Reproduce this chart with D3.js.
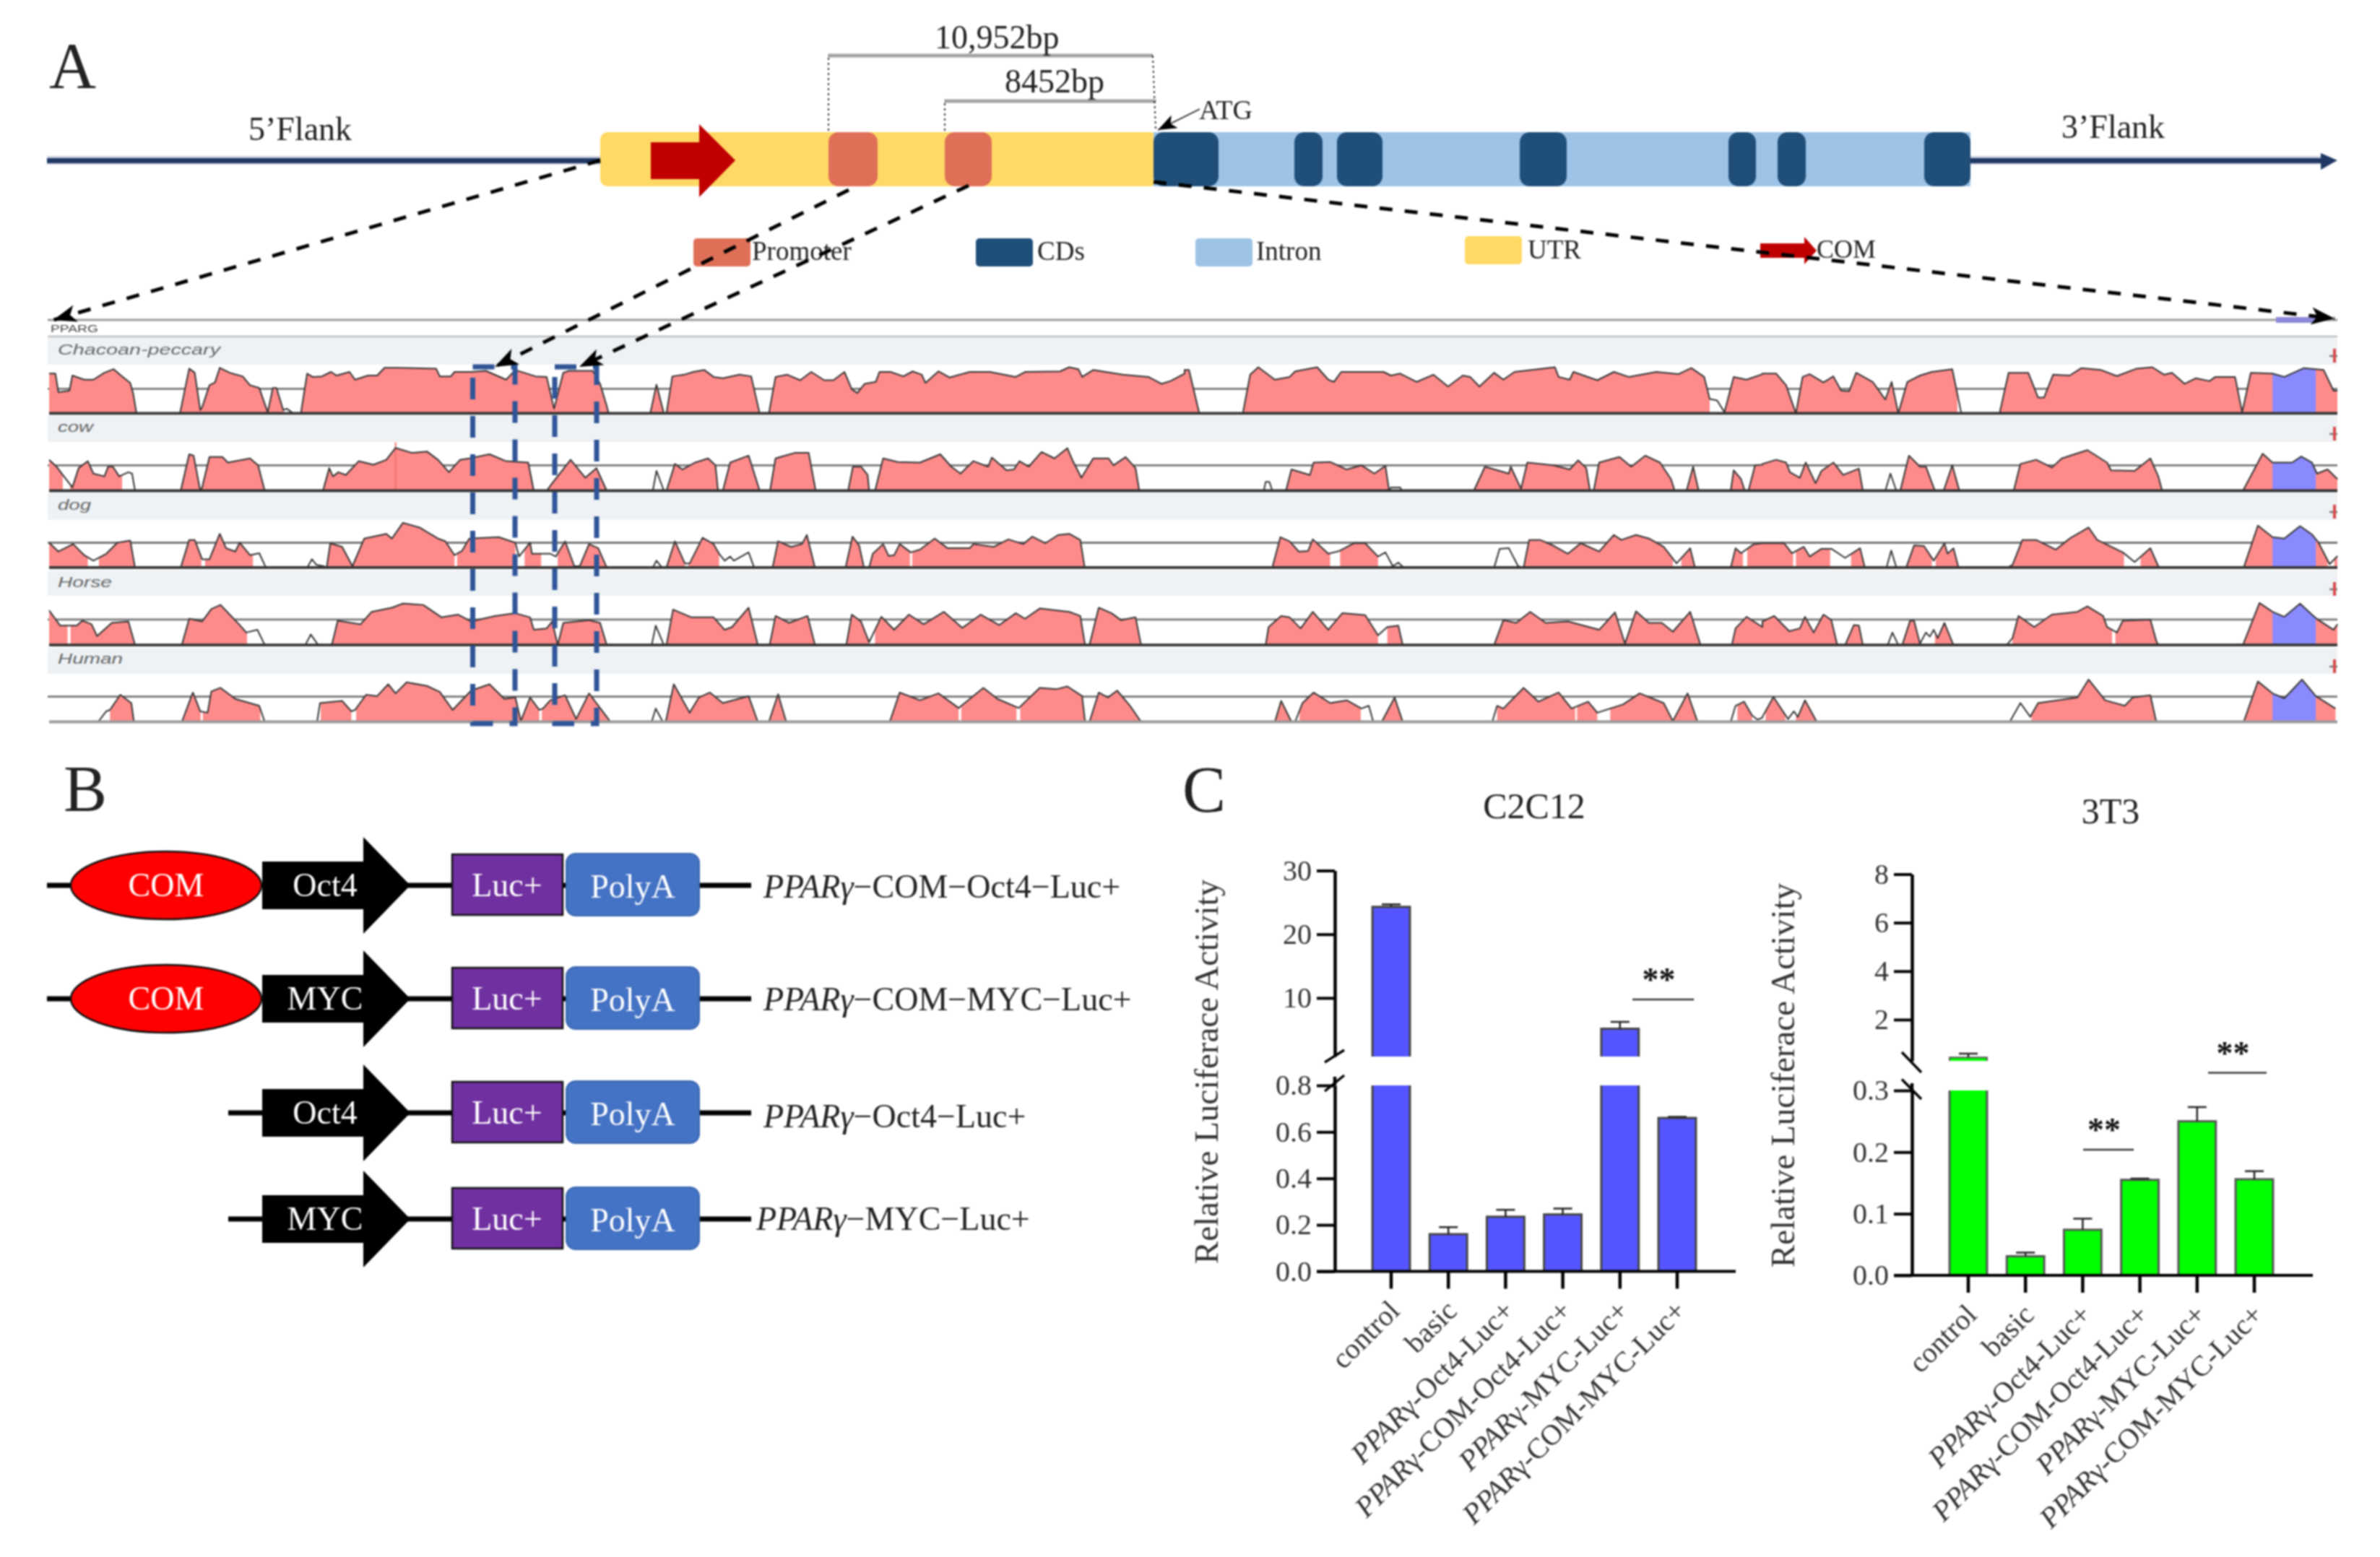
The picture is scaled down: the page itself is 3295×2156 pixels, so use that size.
<!DOCTYPE html>
<html><head><meta charset="utf-8">
<script src="https://cdnjs.cloudflare.com/ajax/libs/d3/7.8.5/d3.min.js"></script>
<style>html,body{margin:0;background:#fff}svg{display:block;filter:blur(0.8px)}text{font-family:"Liberation Serif",serif;fill:#222}</style>
</head><body>
<script>
// ---------- DATA ----------
const speciesNames=['Chacoan-peccary','cow','dog','Horse','Human'];
// conservation profiles: four reading windows, flat [position, score, ...] lists (score 0-178, threshold 89)
const peccary=[
[55,144,72,144,80,77,110,82,118,137,150,122,175,122,205,147,230,160,250,137,275,110,283,72,292,0,410,0,435,162,450,147,465,12,470,22,490,102,505,112,518,165,545,147,580,134,600,102,625,92,648,4,662,92,672,92,690,12,700,17,715,2,738,0,755,144,770,132,795,134,820,150,835,137,870,150,885,122,920,137,945,137,965,165,1000,165,1105,162,1115,134,1145,134,1155,150,1200,150,1240,154,1295,122,1320,157,1375,134,1405,132,1425,17,1450,147,1465,154,1530,154,1550,107,1568,27],
[5,0,118,0,135,104,155,0,162,0,178,134,210,140,235,150,265,157,290,132,315,127,360,140,392,134,415,0,440,0,458,132,490,140,525,120,555,150,590,120,615,120,645,150,665,87,680,74,700,107,730,114,740,150,770,150,805,134,830,152,855,140,865,110,900,152,930,130,985,150,1040,150,1110,132,1135,150,1230,152,1255,167,1280,160,1290,132,1320,157,1400,140,1470,132,1505,107,1530,117,1568,144],
[0,157,12,157,40,0,158,0,178,140,200,167,245,122,285,132,300,152,360,167,390,122,405,114,425,150,470,150,540,150,560,137,585,144,630,114,675,140,715,97,755,137,775,132,800,97,840,147,865,122,895,150,1005,167,1015,132,1045,122,1055,150,1120,120,1165,150,1205,132,1280,150,1340,142,1375,164,1410,132,1425,52,1445,47,1465,4,1490,132,1525,122,1568,142],
[0,144,35,144,60,102,85,0,102,132,120,142,155,112,180,134,200,82,220,80,238,147,280,114,312,50,328,114,345,0,368,114,400,137,430,150,482,160,505,0,602,0,625,147,675,147,700,57,715,57,738,140,780,137,810,164,860,157,900,135,950,162,990,167,1020,140,1040,147,1072,107,1100,127,1135,117,1150,132,1200,132,1218,4,1240,147,1295,144,1325,132,1375,164,1425,157,1450,82,1460,82]];
const cow=[
[55,112,75,87,95,52,118,12,135,82,160,107,175,62,205,52,215,87,228,87,245,52,270,67,280,62,288,0,412,0,435,132,447,127,465,0,470,12,490,122,525,122,540,102,600,117,622,92,640,0,798,0,815,82,825,52,840,67,860,57,895,107,935,94,970,112,995,155,1040,137,1080,142,1110,112,1140,67,1170,112,1195,117,1250,132,1295,107,1355,102,1370,0,1405,0,1420,27,1470,112,1510,47,1540,82,1568,0],
[125,0,135,72,155,0,162,0,185,97,205,77,240,102,275,117,295,92,302,0,315,0,335,102,385,127,415,0,443,0,458,117,510,137,548,137,567,0,655,0,668,87,690,87,708,57,712,0,728,0,750,117,790,104,850,102,905,132,935,87,960,62,995,107,1035,87,1045,120,1085,74,1105,77,1120,107,1145,87,1180,140,1215,117,1250,154,1265,107,1288,47,1320,117,1362,117,1375,92,1408,122,1435,82,1445,0],
[215,0,220,32,230,32,238,0,275,0,290,77,340,57,350,102,395,104,440,77,480,92,515,62,545,90,555,0,560,12,585,12,590,0,785,0,815,87,880,62,885,87,913,7,930,102,1000,92,1045,77,1068,110,1090,82,1100,0,1110,0,1125,102,1180,122,1212,87,1250,127,1290,102,1320,42,1330,0,1362,0,1380,87,1395,0,1482,0,1490,74,1510,42,1520,0,1530,0,1548,92,1568,94],
[0,97,35,112,60,102,70,67,95,47,110,102,135,27,150,72,180,102,205,57,245,80,255,0,312,0,325,62,340,0,350,0,372,127,400,87,415,87,438,0,460,0,482,92,500,0,638,0,655,97,695,112,735,84,760,117,825,147,875,102,885,74,945,72,985,117,1005,52,1015,0,1220,0,1270,134,1295,102,1345,102,1368,124,1395,102,1408,62,1435,77,1460,42]];
const dog=[
[55,90,80,58,120,85,150,45,175,25,210,50,240,90,275,98,288,0,412,0,435,100,450,100,470,30,490,30,518,122,535,70,560,58,572,90,600,45,625,52,643,0,755,0,768,30,780,10,800,5,808,0,818,88,850,75,878,5,910,105,970,122,985,105,1015,162,1060,145,1110,105,1130,95,1155,45,1175,60,1195,105,1275,110,1320,90,1330,40,1360,90,1365,50,1415,50,1430,40,1455,95,1480,5,1495,5,1520,85,1545,70,1568,0],
[125,0,135,25,150,0,162,0,185,95,212,15,225,15,260,108,290,85,305,50,320,25,335,40,345,25,385,55,400,0,450,0,465,95,500,75,530,85,543,118,565,0,648,0,667,112,685,80,698,0,712,0,722,50,750,85,765,42,780,45,795,85,825,55,850,65,890,105,925,70,985,70,995,85,1050,75,1090,102,1130,85,1155,112,1190,88,1225,118,1255,122,1285,100,1297,0],
[238,0,260,110,285,95,310,58,335,60,348,102,390,50,420,60,460,88,490,88,525,40,545,55,565,5,580,18,595,0,840,0,855,68,880,70,905,5,920,0,935,100,965,100,1000,80,1040,50,1075,88,1125,58,1165,118,1185,100,1225,118,1260,105,1300,75,1335,15,1372,70,1385,0,1482,0,1495,70,1510,52,1545,85,1568,88],
[0,88,55,88,75,52,105,75,120,40,150,68,175,68,210,35,248,70,260,0,315,0,327,62,340,0,365,0,385,80,410,78,435,25,462,88,470,50,485,70,498,0,622,0,635,10,660,100,695,100,745,65,780,105,828,145,850,100,915,55,945,20,985,70,1005,5,1010,0,1222,0,1258,152,1295,110,1325,105,1365,150,1395,120,1412,90,1440,12,1460,42]];
const horse=[
[55,125,85,70,130,70,145,88,170,75,185,32,225,80,270,85,288,0,415,0,435,95,470,85,495,130,520,145,570,75,590,45,620,55,640,0,750,0,765,38,785,0,822,0,838,88,900,75,930,120,985,135,1015,150,1070,145,1120,100,1165,110,1200,85,1265,105,1320,115,1360,100,1370,55,1405,60,1420,85,1435,0,1450,80,1520,90,1550,80,1568,0],
[122,0,133,70,155,0,162,0,180,128,230,100,290,100,320,55,340,65,385,135,410,0,442,0,458,105,495,80,545,105,565,0,650,0,665,110,690,85,712,10,745,102,780,55,820,110,860,75,915,120,965,62,1015,110,1065,72,1110,115,1135,95,1175,132,1255,120,1285,105,1298,0,1310,0,1335,135,1370,115,1395,90,1435,100,1450,0],
[220,0,228,65,262,105,285,100,315,60,348,120,390,55,428,115,490,108,525,35,550,65,580,70,592,0,840,0,865,90,900,80,938,120,980,80,1040,85,1125,55,1168,118,1195,5,1225,122,1260,80,1295,80,1325,48,1372,120,1400,0,1485,0,1495,60,1525,102,1568,65],
[0,85,30,105,68,50,95,60,108,102,130,45,155,110,175,90,190,0,210,0,232,72,245,70,255,0,318,0,330,45,345,0,355,0,375,88,385,88,400,5,415,45,425,30,435,55,445,25,462,80,485,0,620,0,635,25,650,105,690,65,735,110,800,120,825,140,865,105,875,65,900,45,915,88,985,92,1000,15,1005,0,1220,0,1262,152,1295,120,1325,102,1365,150,1395,110,1410,92,1450,55,1460,75]];
const human=[
[55,0,188,0,210,38,220,43,248,98,278,68,285,0,415,0,445,106,465,38,485,33,495,110,520,123,560,83,625,58,640,0,782,0,790,68,850,76,875,38,885,43,915,98,945,93,975,136,995,103,1025,143,1080,130,1115,108,1150,43,1200,113,1250,136,1290,83,1320,88,1335,3,1360,88,1385,43,1395,48,1415,78,1455,96,1485,10,1520,103,1568,18],
[10,0,122,0,133,48,152,0,160,0,182,136,225,33,250,88,280,106,315,68,385,93,410,0,440,0,465,100,487,0,768,0,795,106,850,78,900,103,955,50,1022,123,1060,83,1118,50,1175,123,1220,118,1250,128,1290,93,1298,0,1310,0,1335,106,1360,88,1385,113,1420,58,1450,0],
[245,0,262,76,290,0,300,0,320,68,350,106,395,68,440,78,480,48,500,58,512,0,535,0,570,88,592,0,835,0,848,58,865,48,920,123,960,73,1015,106,1050,48,1095,73,1120,33,1190,63,1235,103,1300,68,1325,3,1365,103,1392,0,1482,0,1495,58,1518,73,1540,23,1555,8,1568,15],
[0,18,28,90,65,10,80,38,90,18,108,78,138,0,628,0,655,68,680,18,700,68,800,88,828,153,870,78,920,58,940,88,985,96,1000,0,1222,0,1258,146,1295,103,1325,85,1370,153,1405,93,1455,48]];
const tracks=[peccary,cow,dog,horse,human];
// unfilled stretches of each profile: [window, from, to]
const gapsPeccary=[[0,692,738],[2,1425,1465],[3,495,505]];
const gapsCow=[[0,92,112],[0,253,288],[1,125,155],[2,215,238],[2,555,590],[3,312,340]];
const gapsDog=[[0,160,190],[0,468,478],[0,608,643],[0,755,808],[0,1155,1162],[0,1320,1345],[0,1390,1435],[1,125,150],[1,212,222],[1,305,400],[1,823,829],[2,395,422],[2,525,595],[2,840,920],[2,1325,1348],[2,1515,1527],[3,78,85],[3,172,225],[3,315,340],[3,430,440],[3,918,960],[3,1435,1452]];
const gapsHorse=[[0,105,113],[0,592,640],[0,750,785],[1,122,155],[1,712,728],[2,525,550],[3,318,345],[3,400,438],[3,620,635],[3,888,896]];
const gapsHuman=[[0,188,220],[0,466,472],[0,628,640],[0,782,792],[0,875,888],[0,1385,1392],[1,122,152],[1,955,962],[1,1112,1122],[2,290,312],[2,478,535],[2,835,848],[2,1060,1065],[2,1120,1155],[2,1482,1500],[2,1540,1568],[3,0,8],[3,58,85],[3,628,683]];
const trackGaps=[gapsPeccary,gapsCow,gapsDog,gapsHorse,gapsHuman];
const utrWindow=[3,1295,1405];
const cowSpike=[0,995,175];
// gene model, relative positions
const geneUtr=[0,766], geneIntron=[766,1897];
const genePromoters=[[316,384],[477,542]];
const geneCds=[[766,856],[961,1000],[1020,1083],[1273,1338],[1562,1600],[1630,1669],[1833,1897]];
const legendItems=[['Promoter','#df6f57'],['CDs','#1f4e79'],['Intron','#9dc3e6'],['UTR','#ffd966']];
// luciferase bars
const categories=['control','basic','PPARγ-Oct4-Luc+','PPARγ-COM-Oct4-Luc+','PPARγ-MYC-Luc+','PPARγ-COM-MYC-Luc+'];
const c2c12Means=[24.3,0.16,0.235,0.245,5.18,0.66];
const c2c12Upper=[24.7,0.19,0.265,0.27,6.25,0.665];
const t3Means=[0.44,0.031,0.074,0.155,0.25,0.156];
const t3Upper=[0.6,0.037,0.092,0.157,0.273,0.169];
const c2c12LowTicks=[0,0.2,0.4,0.6,0.8], c2c12HighTicks=[10,20,30];
const t3LowTicks=[0,0.1,0.2,0.3], t3HighTicks=[2,4,6,8];
// constructs
const constructNames=[
 {com:true,tf:'Oct4',rest:'−COM−Oct4−Luc+'},
 {com:true,tf:'MYC',rest:'−COM−MYC−Luc+'},
 {com:false,tf:'Oct4',rest:'−Oct4−Luc+'},
 {com:false,tf:'MYC',rest:'−MYC−Luc+'}];

// ---------- SETUP ----------
const svg=d3.select('body').append('svg').attr('width',3295).attr('height',2156).attr('viewBox','0 0 3295 2156');
const defs=svg.append('defs');
function mk(id,len,wid,refX){defs.append('marker').attr('id',id).attr('markerUnits','userSpaceOnUse')
 .attr('markerWidth',len+2).attr('markerHeight',wid+2).attr('viewBox',`0 ${-wid/2-1} ${len+2} ${wid+2}`)
 .attr('refX',refX).attr('refY',0).attr('orient','auto')
 .append('path').attr('d',`M0,${-wid/2}L${len},0L0,${wid/2}L${len*0.25},0Z`).attr('fill','#000');}
mk('ah',32,24,32);mk('ah2',26,20,26);
function T(g,x,y,s,size,o={}){const t=g.append('text').attr('x',x).attr('y',y).attr('font-size',size).text(s);
 if(o.anchor)t.attr('text-anchor',o.anchor);if(o.fill)t.style('fill',o.fill);if(o.w)t.attr('textLength',o.w).attr('lengthAdjust','spacingAndGlyphs');
 if(o.italic)t.attr('font-style','italic');if(o.sans)t.style('font-family','"Liberation Sans",sans-serif');return t;}

// ---------- PANEL A : gene model ----------
const A=svg.append('g');
T(A,68,122,'A',90);
const gx=d3.scaleLinear([0,1897],[831,2728]);
const geneTop=183,geneH=75;
// flanks
[[65,831],[2728,3222]].forEach(([a,b])=>{
 A.append('rect').attr('x',a).attr('y',216).attr('width',b-a).attr('height',12).attr('fill','#8a98b8').attr('opacity',.45);
 A.append('rect').attr('x',a).attr('y',219).attr('width',b-a).attr('height',7).attr('fill','#203864');});
A.append('path').attr('d','M3213,212L3236,222L3213,235Z').attr('fill','#203864');
const rr=(g,a,b,fill,r=12)=>g.append('rect').attr('x',gx(a)).attr('y',geneTop).attr('width',gx(b)-gx(a)).attr('height',geneH).attr('rx',r).attr('fill',fill);
rr(A,geneUtr[0],geneUtr[1]+6,'#ffd966',10);
rr(A,geneIntron[0],geneIntron[1],'#9dc3e6',0);
genePromoters.forEach(d=>rr(A,d[0],d[1],'#df6f57',14));
geneCds.forEach(d=>rr(A,d[0],d[1],'#1f4e79',14));
A.append('path').attr('d','M901,197H968V172L1018,222L968,273V248H901Z').attr('fill','#c00000');
// brackets
A.append('path').attr('d','M1147,181V77M1596,77L1600,180M1308,181V140').attr('fill','none').attr('stroke','#333').attr('stroke-width',2).attr('stroke-dasharray','3 4');
A.append('path').attr('d','M1147,77H1596M1308,140H1600').attr('stroke','#444').attr('stroke-width',5).attr('stroke-dasharray','1.5 1.5').attr('fill','none');
T(A,1294,67,'10,952bp',46);
T(A,1391,128,'8452bp',46);
T(A,344,194,'5’Flank',46);
T(A,2854,191,'3’Flank',46);
T(A,1660,165,'ATG',38);
A.append('line').attr('x1',1661).attr('y1',151).attr('x2',1603).attr('y2',180).attr('stroke','#222').attr('stroke-width',1.6).attr('marker-end','url(#ah2)');
// legend
const legendX=[[960,1041,360,330],[1351,1436,360,330],[1655,1739,360,330],[2028,2115,358,327]];
legendItems.forEach((d,i)=>{const [sx,tx,by,sy]=legendX[i];
 A.append('rect').attr('x',sx).attr('y',sy).attr('width',79).attr('height',39).attr('rx',5).attr('fill',d[1]);
 T(A,tx,by,d[0],37);});
A.append('path').attr('d','M2437,337H2498V328L2515,347L2498,366V357H2437Z').attr('fill','#c00000');
T(A,2515,357,'COM',36);

// ---------- PANEL A : conservation tracks ----------
const win=[[40,840],[840,1640],[1640,2440],[2440,3295]].map(r=>d3.scaleLinear([0,1568],r));
const left=66,right=3236;
const bands=[[467,505],[575,612],[683,720],[790,825],[897,933]];
const bases=[572.4,679.5,785.9,893.1,999.5];
const thresholds=[538.3,644.3,751.5,857.9,964.6];
const labelBase=[491,598,705.5,813,919];
const labelW=[225,49,46,75,90];
const P=svg.append('g');
P.append('line').attr('x1',left).attr('x2',right).attr('y1',443).attr('y2',443).attr('stroke','#999').attr('stroke-width',3);
P.append('line').attr('x1',left).attr('x2',right).attr('y1',466).attr('y2',466).attr('stroke','#bbb').attr('stroke-width',2.5);
P.append('rect').attr('x',3151).attr('y',439).attr('width',57).attr('height',8).attr('fill','#8a8ad8');
T(P,70,460,'PPARG',15,{sans:true,w:66,fill:'#444'});
tracks.forEach((windows,i)=>{
 const g=P.append('g');
 g.append('rect').attr('x',left).attr('y',bands[i][0]).attr('width',right-left).attr('height',bands[i][1]-bands[i][0]).attr('fill','#eef2f5');
 T(g,80,labelBase[i],speciesNames[i],21,{sans:true,italic:true,w:labelW[i],fill:'#666'});
 g.append('line').attr('x1',left).attr('x2',right).attr('y1',thresholds[i]).attr('y2',thresholds[i]).attr('stroke','#777').attr('stroke-width',2.8);
 const y=d3.scaleLinear([0,178],[bases[i],bases[i]-68.1]);
 const pts=[];
 windows.forEach((arr,w)=>{for(let k=0;k<arr.length;k+=2)pts.push([win[w](arr[k]),arr[k+1]]);});
 const area=d3.area().x(d=>d[0]).y0(y(0)).y1(d=>y(d[1]));
 const line=d3.line().x(d=>d[0]).y(d=>y(d[1]));
 const u0=win[utrWindow[0]](utrWindow[1]),u1=win[utrWindow[0]](utrWindow[2]);
 const gaps=trackGaps[i].map(d=>[win[d[0]](d[1]),win[d[0]](d[2])]).sort((a,b)=>a[0]-b[0]);
 const cid='clip'+i;const cp=defs.append('clipPath').attr('id',cid);
 let cur=left;
 gaps.concat([[right,right]]).forEach(gp=>{if(gp[0]>cur)cp.append('rect').attr('x',cur).attr('y',bases[i]-80).attr('width',gp[0]-cur).attr('height',80);cur=gp[1];});
 g.append('path').datum(pts).attr('d',area).attr('fill','#ff8a8a').attr('clip-path',`url(#${cid})`);
 const uid='uclip'+i;defs.append('clipPath').attr('id',uid).append('rect').attr('x',u0).attr('y',bases[i]-80).attr('width',u1-u0).attr('height',80);
 g.append('path').datum(pts).attr('d',area).attr('fill','#8a8aff').attr('clip-path',`url(#${uid})`);
 if(i===1){const sx=win[cowSpike[0]](cowSpike[1]);g.append('line').attr('x1',sx).attr('x2',sx).attr('y1',y(cowSpike[2])).attr('y2',y(0)).attr('stroke','#f07070').attr('stroke-width',2);}
 g.append('path').datum(pts).attr('d',line).attr('fill','none').attr('stroke','#333').attr('stroke-width',2).attr('stroke-linejoin','round');
 g.append('line').attr('x1',left+2).attr('x2',right).attr('y1',bases[i]).attr('y2',bases[i]).attr('stroke',i===4?'#999':'#333').attr('stroke-width',3.8);
 // end mark
 g.append('path').attr('d',`M3225,${bands[i][0]+26}H3236`).attr('stroke','#777').attr('stroke-width',2.5);
 g.append('path').attr('d',`M3232,${bands[i][0]+16}V${bands[i][0]+35}`).attr('stroke','#d84a4a').attr('stroke-width',4);
});
// blue dashed boxes
[[654.5,713],[768,826]].forEach(([a,b])=>P.append('rect').attr('x',a).attr('y',508).attr('width',b-a).attr('height',494).attr('fill','none').attr('stroke','#2f5597').attr('stroke-width',7).attr('stroke-dasharray','30 23'));
// dashed connectors
[[831,222,74,443],[1175,263,685,508],[1341,257,802,508],[1597,252,3232,441]].forEach(d=>
 svg.append('line').attr('x1',d[0]).attr('y1',d[1]).attr('x2',d[2]).attr('y2',d[3]).attr('stroke','#000').attr('stroke-width',5).attr('stroke-dasharray','18 17').attr('marker-end','url(#ah)'));

// ---------- PANEL B ----------
const B=svg.append('g');
T(B,88,1123,'B',90);
const rowY=[1226,1383,1541,1688];
const labelX=[1057,1057,1057,1047], labelY=[1243,1399,1561,1703];
constructNames.forEach((d,i)=>{
 const c=rowY[i],g=B.append('g');
 const ln=(a,b)=>g.append('line').attr('x1',a).attr('x2',b).attr('y1',c).attr('y2',c).attr('stroke','#000').attr('stroke-width',7);
 ln(d.com?65:316,d.com?110:370);ln(560,630);ln(775,790);ln(965,1040);
 if(d.com){g.append('ellipse').attr('cx',230).attr('cy',c).attr('rx',132).attr('ry',47).attr('fill','#ff0000').attr('stroke','#111').attr('stroke-width',2.5);
  T(g,230,c+15,'COM',46,{anchor:'middle',fill:'#fff'});}
 g.append('path').attr('d',`M363,${c-33}H503V${c-67}L568,${c}L503,${c+67}V${c+33}H363Z`).attr('fill','#000');
 T(g,450,c+15,d.tf,46,{anchor:'middle',fill:'#fff'});
 g.append('rect').attr('x',626).attr('y',c-43).attr('width',153).attr('height',84).attr('fill','#7030a0').attr('stroke','#111').attr('stroke-width',2.5);
 T(g,702,c+15,'Luc+',46,{anchor:'middle',fill:'#fff'});
 g.append('rect').attr('x',784).attr('y',c-44).attr('width',184).attr('height',86).attr('rx',13).attr('fill','#4472c4').attr('stroke','#3b66b0').attr('stroke-width',2);
 T(g,876,c+17,'PolyA',46,{anchor:'middle',fill:'#fff'});
 const t=g.append('text').attr('x',labelX[i]).attr('y',labelY[i]).attr('font-size',46);
 t.append('tspan').attr('font-style','italic').text('PPARγ');
 t.append('tspan').text(d.rest);
});

// ---------- PANEL C ----------
const C=svg.append('g');
T(C,1637,1124,'C',90);
function barChart(o){
 const g=C.append('g');
 const low=d3.scaleLinear([0,o.lowMax],[o.y0,o.lowTop]);
 const high=d3.scaleLinear([o.lowMax,o.highMax],[o.highBottom,o.highTop]);
 const x=d3.scaleBand(categories,[o.x0-o.step/2,o.x0+o.step*5.5]);
 const bw=x.bandwidth()*0.655, cx=d=>x(d)+x.bandwidth()/2;
 const rows=categories.map((c,i)=>({c,m:o.means[i],u:o.uppers[i]}));
 const val=v=>v<=o.lowMax?low(v):high(v);
 const bars=g.selectAll('g.b').data(rows).join('g').attr('class','b');
 bars.each(function(d){
  const b=d3.select(this),l=cx(d.c)-bw/2,r=cx(d.c)+bw/2;
  if(d.m>o.lowMax){
   b.append('rect').attr('x',l).attr('y',o.lowTop).attr('width',bw).attr('height',o.y0-o.lowTop).attr('fill',o.color);
   b.append('path').attr('d',`M${l},${o.lowTop}V${o.y0}M${r},${o.lowTop}V${o.y0}`).attr('stroke',o.edge).attr('stroke-width',3);
   b.append('rect').attr('x',l).attr('y',high(d.m)).attr('width',bw).attr('height',o.highBottom-high(d.m)).attr('fill',o.color);
   b.append('path').attr('d',`M${l},${o.highBottom}V${high(d.m)}H${r}V${o.highBottom}`).attr('fill','none').attr('stroke',o.edge).attr('stroke-width',o.highEdge);
  } else {
   b.append('rect').attr('x',l).attr('y',low(d.m)).attr('width',bw).attr('height',o.y0-low(d.m)).attr('fill',o.color).attr('stroke',o.edge).attr('stroke-width',3);
  }
  const e=val(d.u),t=val(d.m);
  b.append('path').attr('d',`M${cx(d.c)},${t}V${e}M${cx(d.c)-13},${e}H${cx(d.c)+13}`).attr('stroke','#222').attr('stroke-width',2.5).attr('fill','none');
 });
 // axes
 const styl=s=>{s.selectAll('.domain').attr('stroke','#000').attr('stroke-width',4.5);
  s.selectAll('.tick line').attr('stroke','#000').attr('stroke-width',4);
  s.selectAll('text').attr('font-size',40).attr('font-family','"Liberation Serif",serif').style('fill','#333');};
 g.append('g').attr('transform',`translate(${o.axisX},0)`).call(d3.axisLeft(low).tickValues(o.lowTicks).tickSize(25).tickSizeOuter(0).tickPadding(7).tickFormat(d3.format('.1f'))).call(styl);
 g.append('g').attr('transform',`translate(${o.axisX},0)`).call(d3.axisLeft(high).tickValues(o.highTicks).tickSize(25).tickSizeOuter(0).tickPadding(7).tickFormat(d3.format('d'))).call(styl);
 g.append('line').attr('x1',o.axisX).attr('x2',o.axisX).attr('y1',o.lowTop).attr('y2',o.lowTop-o.stub).attr('stroke','#000').attr('stroke-width',4.5);
 o.slashes.forEach(s=>g.append('line').attr('x1',s[0]).attr('y1',s[1]).attr('x2',s[2]).attr('y2',s[3]).attr('stroke','#000').attr('stroke-width',3.5));
 g.append('line').attr('x1',o.axisX-25).attr('x2',o.xEnd).attr('y1',o.y0).attr('y2',o.y0).attr('stroke','#000').attr('stroke-width',4);
 const ax=g.append('g').attr('transform',`translate(0,${o.y0})`).call(d3.axisBottom(x).tickSize(24).tickSizeOuter(0));
 ax.select('.domain').remove();
 ax.selectAll('.tick line').attr('stroke','#000').attr('stroke-width',4.5);
 ax.selectAll('text').each(function(d){
  const t=d3.select(this);t.text(null).attr('font-size',40).attr('font-family','"Liberation Serif",serif').style('fill','#333')
   .attr('text-anchor','end').attr('x',0).attr('y',0).attr('dy','.35em').attr('transform','translate(4,47) rotate(-45)');
  if(d.startsWith('PPAR')){t.append('tspan').attr('font-style','italic').text('PPAR');t.append('tspan').text(d.slice(4));}
  else t.text(d);
 });
 // title, y label, significance
 T(g,o.titleX,o.titleY,o.title,50,{anchor:'middle'});
 g.append('text').attr('transform',`translate(${o.ylabX},${o.ylabY}) rotate(-90)`).attr('text-anchor','middle').attr('font-size',47).style('fill','#333').text('Relative Luciferace Activity');
 o.sig.forEach(s=>{g.append('line').attr('x1',s[0]).attr('x2',s[1]).attr('y1',s[2]).attr('y2',s[2]).attr('stroke','#333').attr('stroke-width',2.5);
  T(g,(s[0]+s[1])/2-6,s[2]-12,'**',46,{anchor:'middle',fill:'#111'}).style('font-weight','bold');});
}
barChart({title:'C2C12',titleX:2124,titleY:1133,means:c2c12Means,uppers:c2c12Upper,lowMax:0.8,highMax:30,
 y0:1760.5,lowTop:1503,highBottom:1463,highTop:1205.5,x0:1926,step:79.2,axisX:1848,xEnd:2403,color:'#5555ff',edge:'#444',highEdge:3,
 lowTicks:c2c12LowTicks,highTicks:c2c12HighTicks,stub:12,slashes:[[1834,1471,1861,1454],[1834,1511,1861,1489]],ylabX:1686,ylabY:1484,sig:[[2260,2345,1384]]});
barChart({title:'3T3',titleX:2922,titleY:1140,means:t3Means,uppers:t3Upper,lowMax:0.3,highMax:8,
 y0:1766,lowTop:1510,highBottom:1469,highTop:1210.5,x0:2725,step:79.2,axisX:2647,xEnd:3202,color:'#00ff00',edge:'#555',highEdge:2,
 lowTicks:t3LowTicks,highTicks:t3HighTicks,stub:10,slashes:[[2633,1457,2660,1485],[2633,1494.6,2660,1522]],ylabX:2484,ylabY:1489,sig:[[2884,2954,1592],[3057,3138,1485.5]]});
</script>
</body></html>
